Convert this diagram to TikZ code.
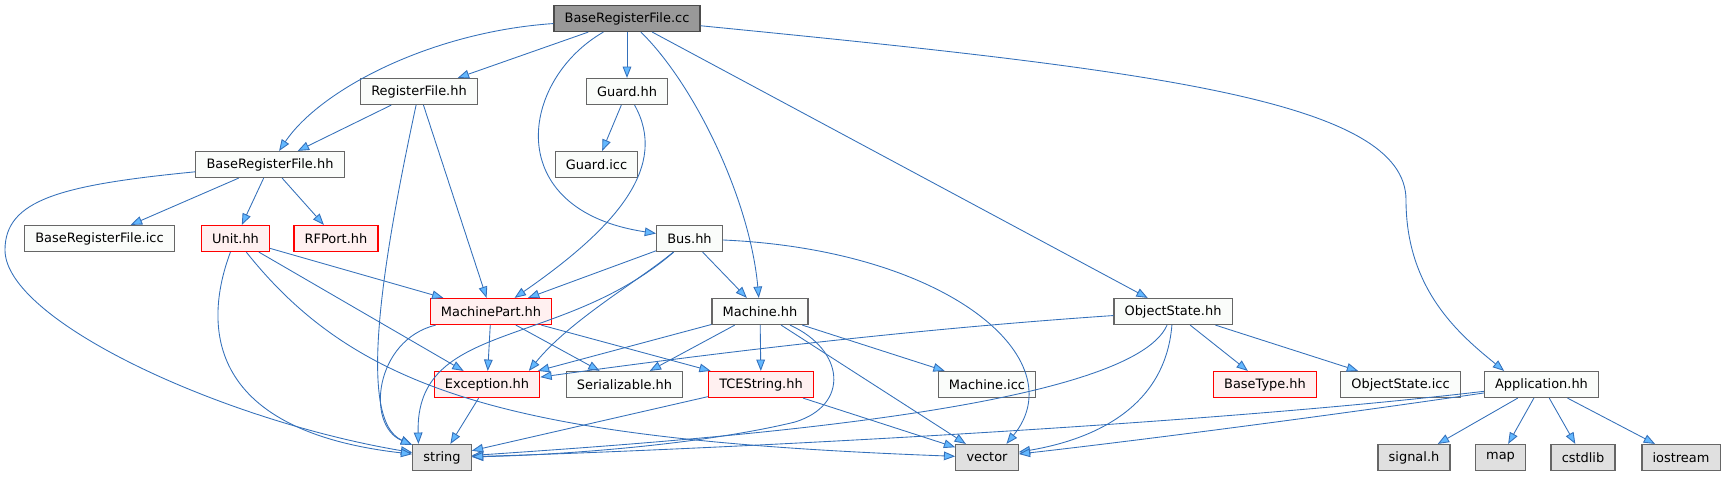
\documentclass[tikz,border=0pt]{standalone}
\usepackage{fontspec}
\setmainfont{DejaVu Sans}
\usetikzlibrary{arrows.meta}
\definecolor{linkblue}{RGB}{52,112,186}
\definecolor{arrowblue}{RGB}{99,184,255}
\definecolor{rootgray}{RGB}{153,153,153}
\definecolor{filewhite}{RGB}{250,252,250}
\definecolor{redfill}{RGB}{255,240,240}
\definecolor{sysgray}{RGB}{224,224,224}
\begin{document}
\begin{tikzpicture}[x=0.75pt, y=-0.75pt,
    >={Triangle[length=8.5pt,width=6.5pt,fill=arrowblue]},
    fnode/.style={draw=black!60, fill=filewhite, minimum height=19.5pt, inner xsep=8pt,
      inner ysep=0pt, line width=0.9pt, font=\fontsize{9.7}{11}\selectfont},
    rootnode/.style={fnode, fill=rootgray, draw=black!70},
    rnode/.style={fnode, fill=redfill, draw=red},
    snode/.style={fnode, fill=sysgray, draw=black!60},
    edge/.style={->, draw=linkblue, line width=0.65pt}]
  \useasboundingbox (0,0) rectangle (1726,476);

  % Files, row by row
  \node[rootnode] (root) at (627,18.5) {BaseRegisterFile.cc};

  \node[fnode] (regf) at (419,91.5) {RegisterFile.hh};
  \node[fnode] (guard) at (627,91.5) {Guard.hh};

  \node[fnode] (brfh) at (270,164.5) {BaseRegisterFile.hh};
  \node[fnode] (guardicc) at (596.5,164.5) {Guard.icc};

  \node[fnode] (brficc) at (99.5,238.5) {BaseRegisterFile.icc};
  \node[rnode] (unit) at (235.5,238.5) {Unit.hh};
  \node[rnode] (rfport) at (336,238.5) {RFPort.hh};
  \node[fnode] (bus) at (689.5,238.5) {Bus.hh};

  \node[rnode] (mpart) at (491,311.5) {MachinePart.hh};
  \node[fnode] (mach) at (760,311.5) {Machine.hh};
  \node[fnode] (objst) at (1173,311.5) {ObjectState.hh};

  \node[rnode] (exc) at (487,384.5) {Exception.hh};
  \node[fnode] (ser) at (624.5,384.5) {Serializable.hh};
  \node[rnode] (tces) at (761,384.5) {TCEString.hh};
  \node[fnode] (machicc) at (987,384.5) {Machine.icc};
  \node[rnode] (btype) at (1265,384.5) {BaseType.hh};
  \node[fnode] (osicc) at (1400.5,384.5) {ObjectState.icc};
  \node[fnode] (app) at (1541.5,384.5) {Application.hh};

  \node[snode] (str) at (442,457.5) {string};
  \node[snode] (vec) at (987,457.5) {vector};
  \node[snode] (sig) at (1414,457.5) {signal.h};
  \node[snode] (map) at (1500.5,457.5) {map};
  \node[snode] (cstd) at (1583,457.5) {cstdlib};
  \node[snode] (ios) at (1681,457.5) {iostream};

  % Includes of the source file
  \draw[edge] (root) .. controls (430,32) and (320,90) .. (brfh);
  \draw[edge] (root) -- (regf);
  \draw[edge] (root) .. controls (520,80) and (500,210) .. (bus);
  \draw[edge] (root) -- (guard);
  \draw[edge] (root) .. controls (695,85) and (750,200) .. (mach);
  \draw[edge] (root) -- (objst);
  \draw[edge] (root) .. controls (1150,70) and (1406,100) .. (1406,200)
    .. controls (1406,290) and (1460,335) .. (app.160);

  % RegisterFile.hh and Guard.hh
  \draw[edge] (regf) -- (brfh);
  \draw[edge] (regf) -- (mpart);
  \draw[edge] (regf) .. controls (385,250) and (355,420) .. (str);
  \draw[edge] (guard) -- (guardicc);
  \draw[edge] (guard) .. controls (668,165) and (620,225) .. (mpart.30);

  % BaseRegisterFile.hh
  \draw[edge] (brfh) -- (brficc);
  \draw[edge] (brfh) -- (unit);
  \draw[edge] (brfh) -- (rfport);
  \draw[edge] (brfh) .. controls (60,185) and (5,200) .. (5,250)
    .. controls (5,320) and (220,420) .. (str);

  % Unit.hh
  \draw[edge] (unit) -- (mpart);
  \draw[edge] (unit) -- (exc);
  \draw[edge] (unit) .. controls (205,320) and (200,430) .. (str);
  \draw[edge] (unit) .. controls (360,395) and (520,440) .. (vec);

  % Bus.hh
  \draw[edge] (bus) -- (mpart);
  \draw[edge] (bus) -- (mach);
  \draw[edge] (bus) .. controls (640,280) and (570,320) .. (exc.18);
  \draw[edge] (bus) .. controls (560,350) and (415,320) .. (str.150);
  \draw[edge] (bus) .. controls (950,250) and (1075,360) .. (vec.35);

  % MachinePart.hh
  \draw[edge] (mpart) -- (exc);
  \draw[edge] (mpart) -- (ser);
  \draw[edge] (mpart) -- (tces);
  \draw[edge] (mpart) .. controls (375,340) and (365,425) .. (str);

  % Machine.hh
  \draw[edge] (mach) -- (exc);
  \draw[edge] (mach) -- (ser);
  \draw[edge] (mach) -- (tces);
  \draw[edge] (mach) -- (machicc);
  \draw[edge] (mach) .. controls (845,350) and (850,405) .. (795,422)
    .. controls (700,445) and (560,455) .. (str);
  \draw[edge] (mach) -- (vec);

  % ObjectState.hh
  \draw[edge] (objst) .. controls (900,330) and (700,355) .. (exc);
  \draw[edge] (objst) -- (btype);
  \draw[edge] (objst) -- (osicc);
  \draw[edge] (objst) .. controls (1130,410) and (700,440) .. (str);
  \draw[edge] (objst) .. controls (1165,410) and (1090,440) .. (vec);

  % TCEString.hh and Exception.hh
  \draw[edge] (tces) -- (str);
  \draw[edge] (tces) -- (vec);
  \draw[edge] (exc) -- (str);

  % Application.hh
  \draw[edge] (app) .. controls (1200,425) and (700,450) .. (str);
  \draw[edge] (app) .. controls (1300,420) and (1100,445) .. (vec);
  \draw[edge] (app) -- (sig);
  \draw[edge] (app) -- (map);
  \draw[edge] (app) -- (cstd);
  \draw[edge] (app) -- (ios);
\end{tikzpicture}
\end{document}
